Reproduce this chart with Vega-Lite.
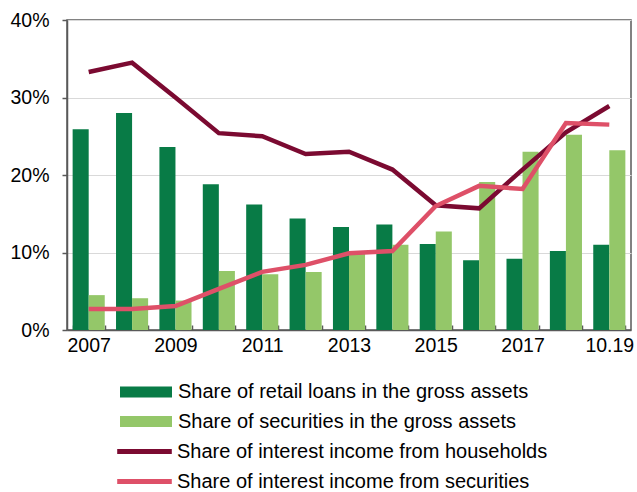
{
  "$schema": "https://vega.github.io/schema/vega-lite/v6.json",
  "width": 564,
  "height": 310,
  "autosize": {"type": "none"},
  "padding": {"left": 67, "top": 20, "right": 6, "bottom": 162},
  "background": "white",
  "config": {
    "font": "Liberation Sans",
    "view": {"stroke": "#595959", "strokeWidth": 1.5},
    "axis": {"labelFont": "Liberation Sans", "labelColor": "#000000"},
    "legend": {"labelFont": "Liberation Sans", "labelColor": "#000000"}
  },
  "datasets": {
    "bars": [
      {"year": "2007", "series": "Share of retail loans in the gross assets", "value": 0.259},
      {"year": "2008", "series": "Share of retail loans in the gross assets", "value": 0.280},
      {"year": "2009", "series": "Share of retail loans in the gross assets", "value": 0.236},
      {"year": "2010", "series": "Share of retail loans in the gross assets", "value": 0.188},
      {"year": "2011", "series": "Share of retail loans in the gross assets", "value": 0.162},
      {"year": "2012", "series": "Share of retail loans in the gross assets", "value": 0.144},
      {"year": "2013", "series": "Share of retail loans in the gross assets", "value": 0.133},
      {"year": "2014", "series": "Share of retail loans in the gross assets", "value": 0.136},
      {"year": "2015", "series": "Share of retail loans in the gross assets", "value": 0.111},
      {"year": "2016", "series": "Share of retail loans in the gross assets", "value": 0.090},
      {"year": "2017", "series": "Share of retail loans in the gross assets", "value": 0.092},
      {"year": "2018", "series": "Share of retail loans in the gross assets", "value": 0.102},
      {"year": "10.19", "series": "Share of retail loans in the gross assets", "value": 0.110},
      {"year": "2007", "series": "Share of securities in the gross assets", "value": 0.045},
      {"year": "2008", "series": "Share of securities in the gross assets", "value": 0.041},
      {"year": "2009", "series": "Share of securities in the gross assets", "value": 0.038},
      {"year": "2010", "series": "Share of securities in the gross assets", "value": 0.076},
      {"year": "2011", "series": "Share of securities in the gross assets", "value": 0.072},
      {"year": "2012", "series": "Share of securities in the gross assets", "value": 0.075},
      {"year": "2013", "series": "Share of securities in the gross assets", "value": 0.099},
      {"year": "2014", "series": "Share of securities in the gross assets", "value": 0.110},
      {"year": "2015", "series": "Share of securities in the gross assets", "value": 0.127},
      {"year": "2016", "series": "Share of securities in the gross assets", "value": 0.191},
      {"year": "2017", "series": "Share of securities in the gross assets", "value": 0.230},
      {"year": "2018", "series": "Share of securities in the gross assets", "value": 0.252},
      {"year": "10.19", "series": "Share of securities in the gross assets", "value": 0.232}
    ],
    "lines": [
      {"year": "2007", "series": "Share of interest income from households", "value": 0.333},
      {"year": "2008", "series": "Share of interest income from households", "value": 0.345},
      {"year": "2009", "series": "Share of interest income from households", "value": 0.300},
      {"year": "2010", "series": "Share of interest income from households", "value": 0.254},
      {"year": "2011", "series": "Share of interest income from households", "value": 0.250},
      {"year": "2012", "series": "Share of interest income from households", "value": 0.227},
      {"year": "2013", "series": "Share of interest income from households", "value": 0.230},
      {"year": "2014", "series": "Share of interest income from households", "value": 0.207},
      {"year": "2015", "series": "Share of interest income from households", "value": 0.161},
      {"year": "2016", "series": "Share of interest income from households", "value": 0.157},
      {"year": "2017", "series": "Share of interest income from households", "value": 0.207},
      {"year": "2018", "series": "Share of interest income from households", "value": 0.255},
      {"year": "10.19", "series": "Share of interest income from households", "value": 0.289},
      {"year": "2007", "series": "Share of interest income from securities", "value": 0.027},
      {"year": "2008", "series": "Share of interest income from securities", "value": 0.027},
      {"year": "2009", "series": "Share of interest income from securities", "value": 0.031},
      {"year": "2010", "series": "Share of interest income from securities", "value": 0.053},
      {"year": "2011", "series": "Share of interest income from securities", "value": 0.075},
      {"year": "2012", "series": "Share of interest income from securities", "value": 0.084},
      {"year": "2013", "series": "Share of interest income from securities", "value": 0.099},
      {"year": "2014", "series": "Share of interest income from securities", "value": 0.102},
      {"year": "2015", "series": "Share of interest income from securities", "value": 0.160},
      {"year": "2016", "series": "Share of interest income from securities", "value": 0.186},
      {"year": "2017", "series": "Share of interest income from securities", "value": 0.182},
      {"year": "2018", "series": "Share of interest income from securities", "value": 0.267},
      {"year": "10.19", "series": "Share of interest income from securities", "value": 0.265}
    ]
  },
  "encoding": {
    "x": {
      "field": "year",
      "type": "ordinal",
      "sort": ["2007","2008","2009","2010","2011","2012","2013","2014","2015","2016","2017","2018","10.19"],
      "scale": {"paddingInner": 0.26, "paddingOuter": 0.13},
      "axis": {
        "title": null,
        "labelAngle": 0,
        "labelFontSize": 19.5,
        "labelPadding": 11,
        "tickBand": "extent",
        "tickSize": -5,
        "tickColor": "#595959",
        "tickWidth": 1.5,
        "domainColor": "#595959",
        "domainWidth": 1.5,
        "labelExpr": "indexof(['2007','2009','2011','2013','2015','2017','10.19'], datum.value) >= 0 ? datum.value : ''"
      }
    },
    "y": {
      "field": "value",
      "type": "quantitative",
      "scale": {"domain": [0, 0.4], "nice": false},
      "axis": {
        "title": null,
        "values": [0, 0.1, 0.2, 0.3, 0.4],
        "format": ".0%",
        "labelFontSize": 19.5,
        "labelPadding": 13,
        "tickSize": 5,
        "tickColor": "#595959",
        "tickWidth": 1.5,
        "domainColor": "#595959",
        "domainWidth": 1.5,
        "grid": true,
        "gridColor": "#d9d9d9",
        "gridWidth": 1
      }
    }
  },
  "layer": [
    {
      "data": {"name": "bars"},
      "mark": {"type": "bar"},
      "encoding": {
        "xOffset": {
          "field": "series",
          "type": "nominal",
          "sort": ["Share of retail loans in the gross assets", "Share of securities in the gross assets"],
          "scale": {"paddingInner": 0, "paddingOuter": 0}
        },
        "color": {
          "field": "series",
          "type": "nominal",
          "sort": ["Share of retail loans in the gross assets", "Share of securities in the gross assets"],
          "scale": {
            "domain": ["Share of retail loans in the gross assets", "Share of securities in the gross assets"],
            "range": ["#087b46", "#94c769"]
          },
          "legend": {
            "title": null,
            "orient": "none",
            "legendX": 66,
            "legendY": 359,
            "direction": "vertical",
            "padding": 0,
            "symbolType": "M-2,-0.42H2V0.42H-2Z",
            "symbolSize": 676,
            "symbolStrokeWidth": 0,
            "labelFontSize": 20,
            "labelOffset": 19,
            "rowPadding": 6.5,
            "labelLimit": 500
          }
        }
      }
    },
    {
      "data": {"name": "lines"},
      "mark": {"type": "line", "strokeWidth": 4.5},
      "encoding": {
        "stroke": {
          "field": "series",
          "type": "nominal",
          "scale": {
            "domain": ["Share of interest income from households", "Share of interest income from securities"],
            "range": ["#7b0a31", "#de5068"]
          },
          "legend": {
            "title": null,
            "orient": "none",
            "legendX": 62,
            "legendY": 416,
            "direction": "vertical",
            "padding": 0,
            "symbolType": "M-2.1,0H2.1",
            "symbolSize": 676,
            "symbolStrokeWidth": 5,
            "labelFontSize": 20,
            "labelOffset": 17,
            "rowPadding": 4,
            "labelLimit": 500
          }
        }
      }
    }
  ]
}
